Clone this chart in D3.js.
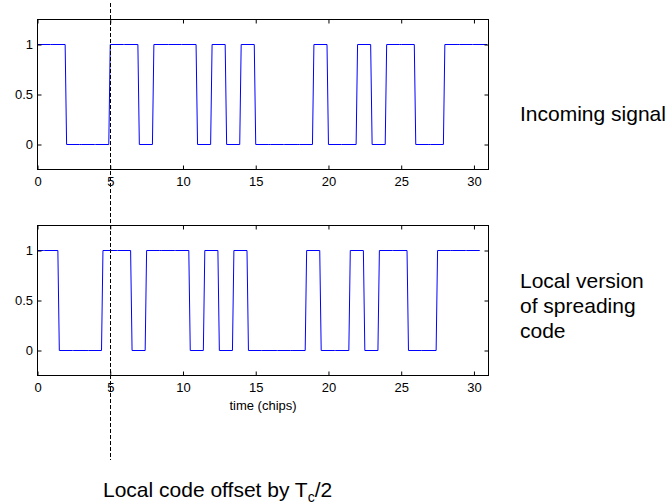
<!DOCTYPE html>
<html>
<head>
<meta charset="utf-8">
<script src="https://cdn.jsdelivr.net/npm/d3@7"></script>
<style>
  html, body { margin: 0; padding: 0; background: #fff; }
  svg { display: block; font-family: "Liberation Sans", Arial, Helvetica, sans-serif; }
</style>
</head>
<body>
<svg id="chart" width="666" height="504"></svg>
<script>
// Spreading code chips (one value per chip period)
const code = [1, 1, 0, 0, 0, 1, 1, 0, 1, 1, 1, 0, 1, 0, 1, 0, 0, 0, 0, 1, 0, 0, 1, 0, 1, 1, 0, 0, 1, 1, 1];
// Time shift of each trace, in chips (incoming signal, local replica offset by Tc/2)
const panelOffsets = [0, -0.5];
// Sampling interval of the simulated waveform, in chips
const sampleStep = 0.1;
const xTicks = [0, 5, 10, 15, 20, 25, 30];
const yTicks = [0, 0.5, 1];
const xDomain = [0, 31];
const yDomain = [-0.25, 1.25];
const markerTime = 5;

const svg = d3.select("#chart");
const left = 37.5, right = 488.5;
const panelTops = [19.5, 225.5];
const panelH = 150;
const tick = 4;

const x = d3.scaleLinear().domain(xDomain).range([left, right]);

// Sampled waveform: each chip holds its level until the last sample before the next chip
function waveform(offset) {
  const pts = [];
  code.forEach((v, i) => {
    let s = i + offset, e = i + offset + 1 - sampleStep;
    if (e < xDomain[0]) return;
    s = Math.max(s, xDomain[0]);
    pts.push([s, v], [e, v]);
  });
  return pts;
}

panelOffsets.forEach((off, p) => {
  const top = panelTops[p];
  const y = d3.scaleLinear().domain(yDomain).range([top + panelH, top]);
  const g = svg.append("g");

  // signal trace
  g.append("path")
    .datum(waveform(off))
    .attr("fill", "none")
    .attr("stroke", "#0000ff")
    .attr("stroke-width", 1)
    .attr("d", d3.line().x(d => x(d[0])).y(d => y(d[1])));

  const styleAxis = sel => {
    sel.selectAll("path.domain").remove();
    sel.selectAll("line").attr("stroke", "#000");
    sel.selectAll("text").attr("fill", "#000").style("font-size", "13px");
  };

  g.append("g").attr("transform", `translate(0,${top + panelH})`)
    .call(d3.axisBottom(x).tickValues(xTicks).tickSize(-tick).tickPadding(7.5).tickFormat(d3.format("d")))
    .call(styleAxis);
  g.append("g").attr("transform", `translate(0,${top})`)
    .call(d3.axisTop(x).tickValues(xTicks).tickSize(-tick).tickFormat(""))
    .call(styleAxis);
  g.append("g").attr("transform", `translate(${left},0)`)
    .call(d3.axisLeft(y).tickValues(yTicks).tickSize(-tick).tickPadding(4.5).tickFormat(d => d === 0.5 ? "0.5" : d3.format("d")(d)))
    .call(styleAxis);
  g.append("g").attr("transform", `translate(${right},0)`)
    .call(d3.axisRight(y).tickValues(yTicks).tickSize(-tick).tickFormat(""))
    .call(styleAxis);

  // axes box
  g.append("rect")
    .attr("x", left).attr("y", top)
    .attr("width", right - left).attr("height", panelH)
    .attr("fill", "none").attr("stroke", "#000").attr("stroke-width", 1);
});

// x-axis title under the lower panel
svg.append("text")
  .attr("x", (left + right) / 2).attr("y", 409.5)
  .attr("text-anchor", "middle").style("font-size", "13px")
  .text("time (chips)");

// vertical dashed marker at t = 5 chips
svg.append("line")
  .attr("x1", Math.round(x(markerTime)) + 0.5).attr("x2", Math.round(x(markerTime)) + 0.5)
  .attr("y1", 3).attr("y2", 460)
  .attr("stroke", "#000").attr("stroke-width", 1)
  .attr("stroke-dasharray", "4,2");

// annotations
const big = "21px";
svg.append("text").attr("x", 520).attr("y", 121).style("font-size", big).text("Incoming signal");
["Local version", "of spreading", "code"].forEach((t, i) => {
  svg.append("text").attr("x", 520).attr("y", 287.5 + i * 25).style("font-size", big).text(t);
});
const note = svg.append("text").attr("x", 103).attr("y", 497).style("font-size", big);
note.append("tspan").text("Local code offset by T");
note.append("tspan").attr("dy", 5).style("font-size", "14px").text("c");
note.append("tspan").attr("dy", -5).text("/2");
</script>
</body>
</html>
